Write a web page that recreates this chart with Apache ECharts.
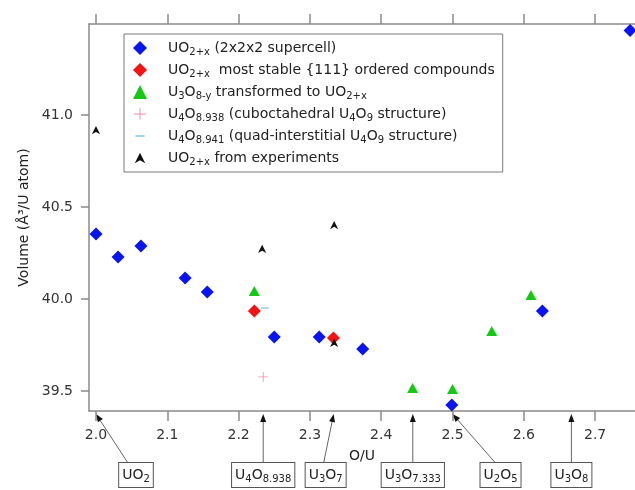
<!DOCTYPE html>
<html>
<head>
<meta charset="utf-8">
<script src="https://cdn.jsdelivr.net/npm/echarts@6.0.0/dist/echarts.min.js"></script>
<style>
  html, body { margin: 0; padding: 0; background: #fff; }
  #chart { width: 635px; height: 490px; }
</style>
</head>
<body>
<div id="chart"></div>
<script>
// data
const seriesNames = [
  'UO2+x (2x2x2 supercell)',
  'UO2+x most stable {111} ordered compounds',
  'U3O8-y transformed to UO2+x',
  'U4O8.938 (cuboctahedral U4O9 structure)',
  'U4O8.941 (quad-interstitial U4O9 structure)',
  'UO2+x from experiments'
];
const legendRich = [
  '{g|}{n|UO}{s|2+x}{n| (2x2x2 supercell)}',
  '{g|}{n|UO}{s|2+x}{n|  most stable }{111}{n| ordered compounds}',
  '{g|}{n|U}{s|3}{n|O}{s|8-y}{n| transformed to UO}{s|2+x}',
  '{g|}{n|U}{s|4}{n|O}{s|8.938}{n| (cuboctahedral U}{s|4}{n|O}{s|9}{n| structure)}',
  '{g|}{n|U}{s|4}{n|O}{s|8.941}{n| (quad-interstitial U}{s|4}{n|O}{s|9}{n| structure)}',
  '{g|}{n|UO}{s|2+x}{n| from experiments}'
];

const blueX = [2.0, 2.031, 2.063, 2.125, 2.156, 2.25, 2.313, 2.374, 2.499, 2.626, 2.749];
const blueY = [40.353, 40.228, 40.288, 40.114, 40.038, 39.793, 39.793, 39.728, 39.424, 39.935, 41.46];
const redX = [2.222, 2.333];
const redY = [39.935, 39.788];
const greenX = [2.222, 2.444, 2.5, 2.555, 2.61];
const greenY = [40.043, 39.516, 39.511, 39.826, 40.022];
const pinkX = [2.2345];
const pinkY = [39.576];
const cyanX = [2.237];
const cyanY = [39.951];
const blackX = [2.0, 2.233, 2.334, 2.334];
const blackY = [40.918, 40.272, 40.402, 39.761];

const xTicks = [2.0, 2.1, 2.2, 2.3, 2.4, 2.5, 2.6, 2.7];
const yTicks = [39.5, 40.0, 40.5, 41.0];

// compositions marked under the axis
const annoLabels = [
  '{n|UO}{s|2}',
  '{n|U}{s|4}{n|O}{s|8.938}',
  '{n|U}{s|3}{n|O}{s|7}',
  '{n|U}{s|3}{n|O}{s|7.333}',
  '{n|U}{s|2}{n|O}{s|5}',
  '{n|U}{s|3}{n|O}{s|8}'
];
const annoX = [2.0, 2.2345, 2.3333, 2.4443, 2.5, 2.6667];
const annoBoxDx = [40, 0, -8, 0, 48, 0];
const annoTailDx = [32, 0, -10, 0, 43, 0];

const FONT = 'DejaVu Sans';
const xMin = 1.9902, xMax = 2.7559;
const yMin = 39.391, yMax = 41.495;
const axisGrey = '#8a8a8a';

const richStyles = {
  g: { width: 16 },
  n: { fontFamily: FONT, fontSize: 14, lineHeight: 18, color: '#222' },
  s: { fontFamily: FONT, fontSize: 10, lineHeight: 10, padding: [8, 0, 0, 0], color: '#222' }
};

// marker paths drawn in a 12x12 box so legend and plot share the same look
const plusPath = 'path://M0,0M12,12M5.6,1H6.4V5.6H11V6.4H6.4V11H5.6V6.4H1V5.6H5.6Z';
const dashPath = 'path://M0,0M12,12M2,5.3H10V6.7H2Z';
const expPath = 'path://M0,0M12,12M6,1.5L10.5,10.5L6,8L1.5,10.5Z';

function pts(xs, ys) {
  return xs.map((x, i) => [x, ys[i]]);
}

function scatter(idx, xs, ys, symbol, size, color) {
  return {
    name: seriesNames[idx],
    type: 'scatter',
    data: pts(xs, ys),
    symbol: symbol,
    symbolSize: size,
    itemStyle: { color: color, opacity: 1 },
    clip: false,
    silent: true
  };
}

const chart = echarts.init(document.getElementById('chart'));

const option = {
  animation: false,
  backgroundColor: '#fff',
  textStyle: { fontFamily: FONT },
  grid: { left: 89, top: 24, right: 0, bottom: 79 },
  legend: {
    orient: 'vertical',
    left: 124,
    top: 34,
    padding: [5, 8, 5, 9],
    itemWidth: 14,
    itemHeight: 14,
    itemGap: 4,
    borderColor: '#7a7a7a',
    borderWidth: 1,
    selectedMode: false,
    data: seriesNames,
    textStyle: { fontFamily: FONT, fontSize: 14, lineHeight: 18, color: '#222', rich: richStyles },
    formatter: function (name) { return legendRich[seriesNames.indexOf(name)]; }
  },
  xAxis: [{
    type: 'value',
    min: xMin, max: xMax,
    name: 'O/U',
    nameLocation: 'middle',
    nameGap: 38,
    nameTextStyle: { fontFamily: FONT, fontSize: 14, color: '#222' },
    splitLine: { show: false },
    axisLine: { lineStyle: { color: axisGrey, width: 1.5 } },
    axisTick: { customValues: xTicks, length: 10, lineStyle: { color: axisGrey, width: 1.5 } },
    axisLabel: {
      customValues: xTicks, margin: 17, fontSize: 14, color: '#333', fontFamily: FONT,
      formatter: v => v.toFixed(1)
    }
  }, {
    type: 'value',
    position: 'top',
    min: xMin, max: xMax,
    splitLine: { show: false },
    axisLine: { lineStyle: { color: axisGrey, width: 1.5 } },
    axisTick: { customValues: xTicks, length: 10, lineStyle: { color: axisGrey, width: 1.5 } },
    axisLabel: { show: false }
  }],
  yAxis: {
    type: 'value',
    min: yMin, max: yMax,
    name: 'Volume (Å³/U atom)',
    nameLocation: 'middle',
    nameGap: 58,
    nameTextStyle: { fontFamily: FONT, fontSize: 14, color: '#222' },
    splitLine: { show: false },
    axisLine: { show: true, lineStyle: { color: axisGrey, width: 1.5 } },
    axisTick: { show: true, customValues: yTicks, length: 8, lineStyle: { color: axisGrey, width: 1.5 } },
    axisLabel: {
      customValues: yTicks, margin: 16, fontSize: 14, color: '#333', fontFamily: FONT,
      formatter: v => v.toFixed(1)
    }
  },
  series: [
    scatter(0, blueX, blueY, 'diamond', 13, '#0a14f0'),
    scatter(1, redX, redY, 'diamond', 13, '#f01414'),
    scatter(2, greenX, greenY, 'triangle', [11, 10], '#14c814'),
    scatter(3, pinkX, pinkY, plusPath, 12, '#f08cb0'),
    scatter(4, cyanX, cyanY, dashPath, 12, '#8ccdf0'),
    scatter(5, blackX, blackY, expPath, 11, '#111')
  ]
};

chart.setOption(option);

// arrows + boxed labels below the axis, placed through the x scale
const axisBottom = chart.convertToPixel({ xAxisIndex: 0, yAxisIndex: 0 }, [xMin, yMin])[1];
const elements = [];
annoX.forEach(function (v, i) {
  const px = chart.convertToPixel({ xAxisIndex: 0, yAxisIndex: 0 }, [v, yMin])[0];
  const tip = [px, axisBottom + 3];
  const boxTop = axisBottom + 52;
  const tail = [px + annoTailDx[i], boxTop];
  const dx = tip[0] - tail[0], dy = tip[1] - tail[1];
  const len = Math.sqrt(dx * dx + dy * dy);
  const ux = dx / len, uy = dy / len;
  const bx = tip[0] - ux * 8, by = tip[1] - uy * 8;
  elements.push({
    type: 'line', silent: true,
    shape: { x1: tail[0], y1: tail[1], x2: bx, y2: by },
    style: { stroke: '#666', lineWidth: 1 }
  });
  elements.push({
    type: 'polygon', silent: true,
    shape: { points: [tip, [bx - uy * 3, by + ux * 3], [bx + uy * 3, by - ux * 3]] },
    style: { fill: '#111' }
  });
  elements.push({
    type: 'text', silent: true,
    x: px + annoBoxDx[i], y: boxTop,
    style: {
      text: annoLabels[i],
      rich: richStyles,
      fontFamily: FONT, fontSize: 14, fill: '#222',
      align: 'center', verticalAlign: 'top',
      backgroundColor: '#fff', borderColor: '#555', borderWidth: 1,
      padding: [3, 3, 3, 3]
    }
  });
});
chart.setOption({ graphic: { elements: elements } });
</script>
</body>
</html>
